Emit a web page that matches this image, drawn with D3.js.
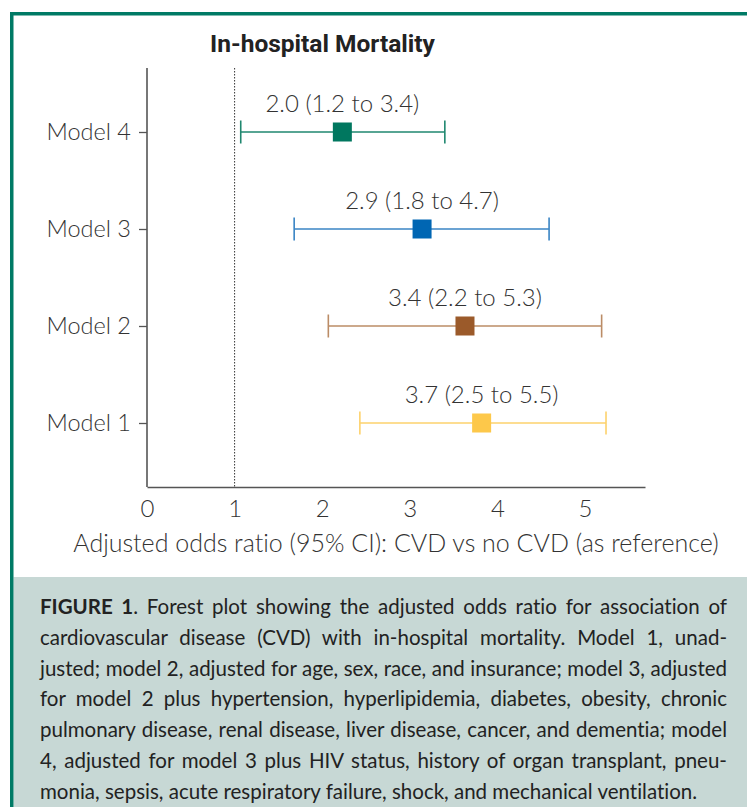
<!DOCTYPE html>
<html>
<head>
<meta charset="utf-8">
<script src="https://cdn.jsdelivr.net/npm/d3@7"></script>
<style>
  body { margin: 0; background: #fff; }
  svg { display: block; }
  text { font-variant-ligatures: none; }
</style>
</head>
<body>
<svg id="chart"></svg>
<script>
const models = ["Model 4", "Model 3", "Model 2", "Model 1"];
const estimates = [2.23, 3.14, 3.63, 3.82];
const lowerCI = [1.07, 1.68, 2.07, 2.43];
const upperCI = [3.40, 4.59, 5.19, 5.24];
const ciLabels = ["2.0 (1.2 to 3.4)", "2.9 (1.8 to 4.7)", "3.4 (2.2 to 5.3)", "3.7 (2.5 to 5.5)"];
const markerColors = ["#00775f", "#0066b3", "#9b5a2a", "#fdc84a"];
const lineColors = ["#1f876f", "#3a84c4", "#bb8c66", "#fdd26c"];
const xTicks = [0, 1, 2, 3, 4, 5];
const refValue = 1;
const chartTitle = "In-hospital Mortality";
const xTitle = "Adjusted odds ratio (95% CI): CVD vs no CVD (as reference)";
const captionLines = [
  "FIGURE 1. Forest plot showing the adjusted odds ratio for association of",
  "cardiovascular disease (CVD) with in-hospital mortality. Model 1, unad-",
  "justed; model 2, adjusted for age, sex, race, and insurance; model 3, adjusted",
  "for model 2 plus hypertension, hyperlipidemia, diabetes, obesity, chronic",
  "pulmonary disease, renal disease, liver disease, cancer, and dementia; model",
  "4, adjusted for model 3 plus HIV status, history of organ transplant, pneu-",
  "monia, sepsis, acute respiratory failure, shock, and mechanical ventilation."
];

const width = 747, height = 807;
const font = "Lato, 'Open Sans', sans-serif";
const green = "#007a65";
const axisColor = "#555";
const textColor = "#333";

const svg = d3.select("#chart").attr("width", width).attr("height", height);

// frame + caption box
svg.append("rect").attr("x", 10).attr("y", 12).attr("width", width - 10).attr("height", 3.5).attr("fill", green);
svg.append("rect").attr("x", 13.5).attr("y", 577).attr("width", width - 13.5).attr("height", height - 577).attr("fill", "#c7d8d5");
svg.append("rect").attr("x", 10).attr("y", 12).attr("width", 3.5).attr("height", height - 12).attr("fill", green);

// scales
const x = d3.scaleLinear().domain([0, 5.685]).range([147, 645]);
const y = d3.scalePoint().domain(models).range([132, 423]);
const plotTop = 68, plotBottom = 487;

// title
svg.append("text")
   .attr("x", 322.5).attr("y", 52)
   .attr("text-anchor", "middle")
   .style("font-family", "Roboto, sans-serif").style("font-weight", 700).style("font-size", "24.5px")
   .attr("fill", "#222")
   .text(chartTitle);

// y axis
const yAxis = svg.append("g")
   .attr("transform", `translate(${x(0)},0)`)
   .call(d3.axisLeft(y).tickSize(8).tickPadding(8));
yAxis.select(".domain").remove();
yAxis.selectAll("line").attr("stroke", axisColor).attr("stroke-width", 1.3);
yAxis.selectAll("text").style("font-family", font).style("font-weight", 300).style("font-size", "23.5px").attr("fill", textColor);
svg.append("line")
   .attr("x1", x(0)).attr("x2", x(0)).attr("y1", plotTop).attr("y2", plotBottom)
   .attr("stroke", axisColor).attr("stroke-width", 1.6);

// x axis
const xAxis = svg.append("g")
   .attr("transform", `translate(0,${plotBottom})`)
   .call(d3.axisBottom(x).tickValues(xTicks).tickFormat(d3.format("d")).tickSize(0).tickPadding(13).tickSizeOuter(0));
xAxis.select(".domain").attr("stroke", axisColor).attr("stroke-width", 1.6);
xAxis.selectAll("text").style("font-family", font).style("font-weight", 300).style("font-size", "24px").attr("fill", textColor);

svg.append("text")
   .attr("x", 396).attr("y", 552)
   .attr("text-anchor", "middle")
   .style("font-family", font).style("font-weight", 300).style("font-size", "25px")
   .attr("fill", textColor)
   .text(xTitle);

// reference line
svg.append("line")
   .attr("x1", x(refValue)).attr("x2", x(refValue)).attr("y1", plotTop).attr("y2", plotBottom)
   .attr("stroke", "#333").attr("stroke-width", 1).attr("stroke-dasharray", "1.5,1.5");

// CI bars
const rows = models.map((m, i) => ({ model: m, est: estimates[i], lo: lowerCI[i], hi: upperCI[i], label: ciLabels[i], mc: markerColors[i], lc: lineColors[i] }));
const g = svg.selectAll(".row").data(rows).enter().append("g").attr("class", "row");
g.append("line")
   .attr("x1", d => x(d.lo)).attr("x2", d => x(d.hi))
   .attr("y1", d => y(d.model)).attr("y2", d => y(d.model))
   .attr("stroke", d => d.lc).attr("stroke-width", 1.6);
g.append("line")
   .attr("x1", d => x(d.lo)).attr("x2", d => x(d.lo))
   .attr("y1", d => y(d.model) - 11.5).attr("y2", d => y(d.model) + 11.5)
   .attr("stroke", d => d.lc).attr("stroke-width", 1.6);
g.append("line")
   .attr("x1", d => x(d.hi)).attr("x2", d => x(d.hi))
   .attr("y1", d => y(d.model) - 11.5).attr("y2", d => y(d.model) + 11.5)
   .attr("stroke", d => d.lc).attr("stroke-width", 1.6);
g.append("rect")
   .attr("x", d => x(d.est) - 9.5).attr("y", d => y(d.model) - 9.5)
   .attr("width", 19).attr("height", 19)
   .attr("fill", d => d.mc);
g.append("text")
   .attr("x", d => x(d.est)).attr("y", d => y(d.model) - 20)
   .attr("text-anchor", "middle")
   .style("font-family", font).style("font-weight", 300).style("font-size", "24px")
   .attr("fill", textColor)
   .text(d => d.label);

// caption, justified by word spacing
const capLeft = 40, capRight = 727, capTop = 614, capStep = 30.8;
captionLines.forEach((line, i) => {
  const t = svg.append("text")
     .attr("x", capLeft).attr("y", capTop + i * capStep)
     .style("font-family", font).style("font-size", "20.5px")
     .attr("fill", "#222");
  if (i === 0) {
    t.append("tspan").style("font-weight", 700).text("FIGURE 1");
    t.append("tspan").text(line.slice("FIGURE 1".length));
  } else {
    t.text(line);
  }
  if (i < captionLines.length - 1) {
    const natural = t.node().getComputedTextLength();
    const spaces = line.split(" ").length - 1;
    t.attr("word-spacing", (capRight - capLeft - natural) / spaces);
  }
});
</script>
</body>
</html>
